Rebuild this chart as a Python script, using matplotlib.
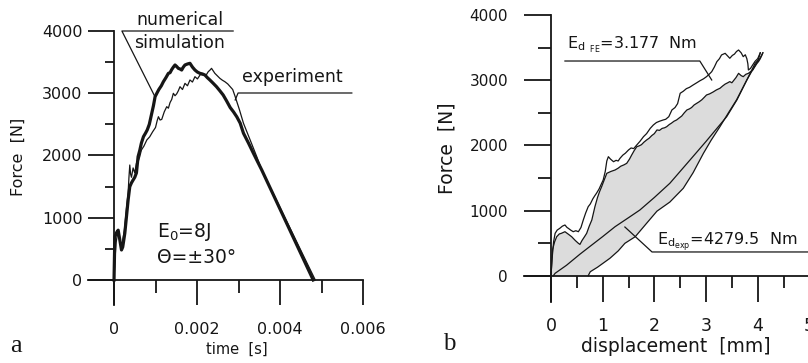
import matplotlib
matplotlib.use('Agg')
import matplotlib.pyplot as plt
from matplotlib.ticker import FixedLocator

plt.rcParams['font.family'] = 'DejaVu Sans'
plt.rcParams['mathtext.default'] = 'regular'

# (a) impact force history
t_sim = [0, 0.00001, 0.00002, 0.00006, 0.0001, 0.00014, 0.00018, 0.00021, 0.00026, 0.0003,
         0.00034, 0.00038, 0.00042, 0.00046, 0.0005, 0.00054, 0.00058, 0.00062, 0.00066, 0.00071,
         0.00076, 0.0008, 0.00085, 0.0009, 0.00095, 0.00099, 0.00104, 0.00108, 0.00114, 0.00119,
         0.00125, 0.00131, 0.00135, 0.00139, 0.00143, 0.00147, 0.00151, 0.00155, 0.00159, 0.00163,
         0.00167, 0.00171, 0.00177, 0.00183, 0.00189, 0.00195, 0.00201, 0.00207, 0.00213, 0.00219,
         0.00225, 0.00231, 0.00239, 0.00247, 0.00255, 0.00263, 0.00271, 0.0028, 0.00288, 0.00296,
         0.00304, 0.00312, 0.00324, 0.00336, 0.00346, 0.00356, 0.0037, 0.00385, 0.004, 0.0042,
         0.0044, 0.0046, 0.0048]
F_sim = [0, 350, 696, 760, 800, 643, 482, 530, 750, 1017,
         1285, 1499, 1560, 1606, 1650, 1720, 1981, 2080, 2200, 2303,
         2360, 2410, 2500, 2650, 2800, 2945, 3010, 3060, 3120, 3186,
         3250, 3320, 3330, 3380, 3420, 3454, 3430, 3400, 3390, 3373,
         3420, 3454, 3470, 3481, 3420, 3373, 3340, 3320, 3310, 3293,
         3250, 3213, 3160, 3105, 3040, 2972, 2880, 2770, 2700, 2620,
         2520, 2357, 2200, 2035, 1900, 1767, 1567, 1354, 1140, 855,
         570, 285, 0]

t_exp = [0, 0.00002, 0.00005, 0.00008, 0.00012, 0.00016, 0.0002, 0.00025, 0.0003, 0.00034,
         0.00036, 0.00038, 0.0004, 0.00042, 0.00046, 0.0005, 0.00054, 0.00058, 0.00062, 0.00066,
         0.00072, 0.00079, 0.00086, 0.00093, 0.001, 0.00104, 0.00107, 0.00111, 0.00115, 0.00121,
         0.00127, 0.00131, 0.00135, 0.00139, 0.00143, 0.00147, 0.00151, 0.00155, 0.00159, 0.00165,
         0.00171, 0.00177, 0.00183, 0.00189, 0.00195, 0.00201, 0.00208, 0.00215, 0.00221, 0.00227,
         0.00231, 0.00235, 0.00239, 0.00243, 0.00249, 0.00255, 0.00261, 0.00267, 0.00274, 0.0028,
         0.00286, 0.00292, 0.00302, 0.00312, 0.00328, 0.00344, 0.00356, 0.0037, 0.00385, 0.004,
         0.0042, 0.0044, 0.0046, 0.00485]
F_exp = [0, 300, 600, 720, 700, 560, 600, 800, 1150, 1400,
         1650, 1847, 1700, 1650, 1800, 1720, 1874, 1900, 1981, 2088,
         2150, 2249, 2300, 2380, 2450, 2560, 2623, 2570, 2580, 2700,
         2784, 2760, 2850, 2900, 2999, 2960, 2990, 3040, 3105, 3060,
         3159, 3120, 3213, 3180, 3266, 3230, 3300, 3293, 3280, 3346,
         3370, 3400, 3360, 3320, 3280, 3240, 3210, 3186, 3150, 3105,
         3060, 2945, 2740, 2517, 2250, 1981, 1767, 1575, 1370, 1164,
         890, 616, 342, 0]

time_ticks = [0, 0.002, 0.004, 0.006]
time_labels = ['0', '0.002', '0.004', '0.006']
force_ticks = [0, 1000, 2000, 3000, 4000]

# (b) force-displacement loops
d_fe_load = [0, 0.02, 0.05, 0.08, 0.12, 0.17, 0.22, 0.27, 0.31, 0.335,
             0.38, 0.43, 0.48, 0.53, 0.58, 0.625, 0.67, 0.72, 0.76, 0.81,
             0.85, 0.88, 0.93, 0.97, 1.01, 1.05, 1.08, 1.11, 1.15, 1.21,
             1.26, 1.30, 1.335, 1.39, 1.44, 1.5, 1.55, 1.60, 1.66, 1.72,
             1.79, 1.85, 1.92, 1.98, 2.04, 2.10, 2.17, 2.22, 2.28, 2.34,
             2.40, 2.45, 2.5, 2.56, 2.62, 2.68, 2.75, 2.82, 2.88, 2.95,
             3.01, 3.06, 3.11, 3.16, 3.21, 3.26, 3.30, 3.37, 3.42, 3.46,
             3.51, 3.55, 3.59, 3.63, 3.68, 3.72, 3.76, 3.79, 3.81, 3.82,
             3.86, 3.90, 3.95, 4.0, 4.05]
F_fe_load = [0, 250, 520, 650, 700, 727, 760, 778, 740, 727,
             700, 675, 690, 675, 740, 855, 960, 1059, 1100, 1180,
             1230, 1264, 1330, 1400, 1468, 1600, 1760, 1826, 1790, 1749,
             1770, 1760, 1801, 1850, 1880, 1929, 1960, 1950, 2006, 2060,
             2133, 2180, 2260, 2312, 2350, 2370, 2389, 2400, 2440, 2543,
             2580, 2640, 2799, 2830, 2870, 2890, 2926, 2960, 2990, 3020,
             3054, 3090, 3130, 3200, 3284, 3330, 3387, 3412, 3370, 3336,
             3380, 3400, 3440, 3463, 3420, 3361, 3390, 3330, 3250, 3156,
             3180, 3230, 3290, 3330, 3420]

d_exp_load = [0, 0.03, 0.07, 0.11, 0.16, 0.2, 0.27, 0.33, 0.40, 0.47,
              0.53, 0.56, 0.6, 0.65, 0.69, 0.74, 0.79, 0.85, 0.9, 0.94,
              0.98, 1.03, 1.08, 1.16, 1.24, 1.30, 1.35, 1.41, 1.465, 1.52,
              1.56, 1.61, 1.66, 1.70, 1.75, 1.80, 1.85, 1.90, 1.95, 2.00,
              2.05, 2.10, 2.15, 2.20, 2.24, 2.29, 2.33, 2.38, 2.43, 2.48,
              2.53, 2.58, 2.63, 2.68, 2.72, 2.77, 2.82, 2.87, 2.92, 2.97,
              3.01, 3.07, 3.14, 3.20, 3.27, 3.32, 3.37, 3.42, 3.46, 3.50,
              3.53, 3.58, 3.63, 3.68, 3.72, 3.77, 3.82, 3.86, 3.90, 3.94,
              3.98, 4.02, 4.05, 4.08, 4.1]
F_exp_load = [0, 400, 520, 598, 640, 650, 675, 640, 598, 540,
              497, 480, 540, 600, 650, 760, 855, 1059, 1200, 1290,
              1366, 1470, 1571, 1600, 1622, 1650, 1680, 1700, 1724, 1790,
              1850, 1920, 1979, 1990, 2010, 2050, 2082, 2110, 2150, 2180,
              2236, 2230, 2260, 2270, 2287, 2320, 2340, 2370, 2389, 2420,
              2450, 2500, 2543, 2560, 2580, 2620, 2645, 2670, 2700, 2740,
              2773, 2790, 2820, 2850, 2876, 2910, 2940, 2960, 2978, 2960,
              2990, 3040, 3105, 3070, 3054, 3090, 3105, 3130, 3150, 3200,
              3250, 3290, 3330, 3380, 3420]

d_fe_unload = [0.045, 0.08, 0.3, 0.56, 0.755, 1.0, 1.24, 1.5, 1.72, 2.0,
               2.30, 2.69, 3.0, 3.40, 3.6, 3.79, 4.01, 4.05]
F_fe_unload = [0, 37, 160, 330, 450, 600, 752, 890, 1008, 1200,
               1418, 1775, 2060, 2440, 2700, 3003, 3310, 3420]

d_exp_unload = [0.72, 0.76, 0.9, 1.14, 1.3, 1.43, 1.63, 1.85, 2.05, 2.3,
                2.56, 2.75, 2.95, 3.1, 3.27, 3.45, 3.59, 3.79, 3.95, 4.04, 4.1]
F_exp_unload = [0, 61, 130, 267, 380, 497, 598, 804, 990, 1130,
                1341, 1580, 1878, 2080, 2287, 2520, 2696, 3003, 3259, 3330, 3420]

disp_ticks = [0, 1, 2, 3, 4, 5]

INK = '#161616'
W, H = 808, 363


def px(x, y):
    return x / W, 1 - y / H


def style_axes(ax, xmajor, xminor, ymajor, yminor, xlen, ylen, xpad, ypad):
    for side in ('top', 'right'):
        ax.spines[side].set_visible(False)
    for side in ('left', 'bottom'):
        ax.spines[side].set_position(('data', 0))
        ax.spines[side].set_linewidth(1.3)
        ax.spines[side].set_color(INK)
    ax.xaxis.set_major_locator(FixedLocator(xmajor))
    ax.xaxis.set_minor_locator(FixedLocator(xminor))
    ax.yaxis.set_major_locator(FixedLocator(ymajor))
    ax.yaxis.set_minor_locator(FixedLocator(yminor))
    ax.tick_params(axis='x', which='major', direction='out', length=xlen[0], width=1.3,
                   color=INK, pad=xpad, labelcolor=INK)
    ax.tick_params(axis='x', which='minor', direction='out', length=xlen[1], width=1.3, color=INK)
    ax.tick_params(axis='y', which='major', direction='out', length=ylen[0], width=1.3,
                   color=INK, pad=ypad, labelcolor=INK)
    ax.tick_params(axis='y', which='minor', direction='out', length=ylen[1], width=1.3, color=INK)
    ax.patch.set_visible(False)


fig = plt.figure(figsize=(W / 100, H / 100), dpi=100)

# ---- panel a ----
ax1 = fig.add_axes([88 / W, 1 - 305 / H, (363 - 88) / W, (305 - 31) / H])
ax1.set_xlim(-0.000627, 0.006)
ax1.set_ylim(-402, 4000)
style_axes(ax1, time_ticks, [0.001, 0.003, 0.005], force_ticks, [500, 1500, 2500, 3500],
           (18, 9.4), (18.7, 6.5), 12, 4)
ax1.set_xticklabels(time_labels, fontsize=11.5)
ax1.set_yticklabels([str(v) for v in force_ticks], fontsize=11.5)

ax1.plot(t_exp, F_exp, color=INK, lw=0.9)
ax1.plot(t_sim, F_sim, color=INK, lw=2.3)

# leader lines of the two labels
ax1.plot([0.00287, 0.00019, 0.00099], [4000, 4000, 2940], color=INK, lw=0.9, clip_on=False)
ax1.plot([0.00573, 0.00299, 0.00292], [3004, 3004, 2892], color=INK, lw=0.9, clip_on=False)
ax1.text(0.00159, 4096, 'numerical', ha='center', va='baseline', fontsize=12.5, color=INK)
ax1.text(0.00159, 3727, 'simulation', ha='center', va='baseline', fontsize=12.5, color=INK)
ax1.text(0.00429, 3181, 'experiment', ha='center', va='baseline', fontsize=12.5, color=INK)
ax1.text(0.00104, 690, 'E$_0$=8J', ha='left', va='baseline', fontsize=13.5, color=INK)
ax1.text(0.00104, 273, 'Θ=±30°', ha='left', va='baseline', fontsize=13.5, color=INK)

fig.text(*px(18, 157), 'Force  [N]', rotation=90, ha='center', va='center',
         fontsize=11.5, color=INK)
fig.text(*px(237, 349), 'time  [s]', ha='center', va='center', fontsize=10.5, color=INK)
fig.text(*px(16, 346), 'a', ha='center', va='center', fontsize=19,
         family='Liberation Serif', color=INK)

# ---- panel b ----
ax2 = fig.add_axes([524 / W, 1 - 301.7 / H, 295.7 / W, (301.7 - 15) / H])
ax2.set_xlim(-0.5225, 5.2)
ax2.set_ylim(-399, 4000)
style_axes(ax2, disp_ticks, [0.5, 1.5, 2.5, 3.5, 4.5], force_ticks, [500, 1500, 2500, 3500],
           (18.7, 8.6), (19.4, 9.4), 11, 11.5)
ax2.set_xticklabels([str(v) for v in disp_ticks], fontsize=12.5)
ax2.set_yticklabels([str(v) for v in force_ticks], fontsize=11)

# dissipated energy of the experiment: area inside the experimental loop
loop_d = d_exp_load + d_exp_unload[::-1] + [0]
loop_F = F_exp_load + F_exp_unload[::-1] + [0]
ax2.fill(loop_d, loop_F, color='#dcdcdc', lw=0)

for d, F in ((d_fe_load, F_fe_load), (d_exp_load, F_exp_load),
             (d_fe_unload, F_fe_unload), (d_exp_unload, F_exp_unload)):
    ax2.plot(d, F, color=INK, lw=0.9)

ax2.plot([0.27, 2.88, 3.11], [3294, 3294, 3003], color=INK, lw=0.9, clip_on=False)
ax2.plot([5.3, 1.955, 1.43], [364, 364, 747], color=INK, lw=0.9, clip_on=False)
ax2.text(0.31, 3490, '$E_{d_{\\ \\ FE}}$=3.177  Nm', ha='left', va='baseline',
         fontsize=11.5, color=INK)
ax2.text(2.05, 471, '$E_{d_{exp}}$=4279.5  Nm', ha='left', va='baseline',
         fontsize=11.5, color=INK)

fig.text(*px(447, 148), 'Force  [N]', rotation=90, ha='center', va='center',
         fontsize=13.5, color=INK)
fig.text(*px(676, 346), 'displacement  [mm]', ha='center', va='center', fontsize=13.5,
         color=INK)
fig.text(*px(449, 344), 'b', ha='center', va='center', fontsize=18,
         family='Liberation Serif', color=INK)

fig.savefig('out.png', dpi=100)
